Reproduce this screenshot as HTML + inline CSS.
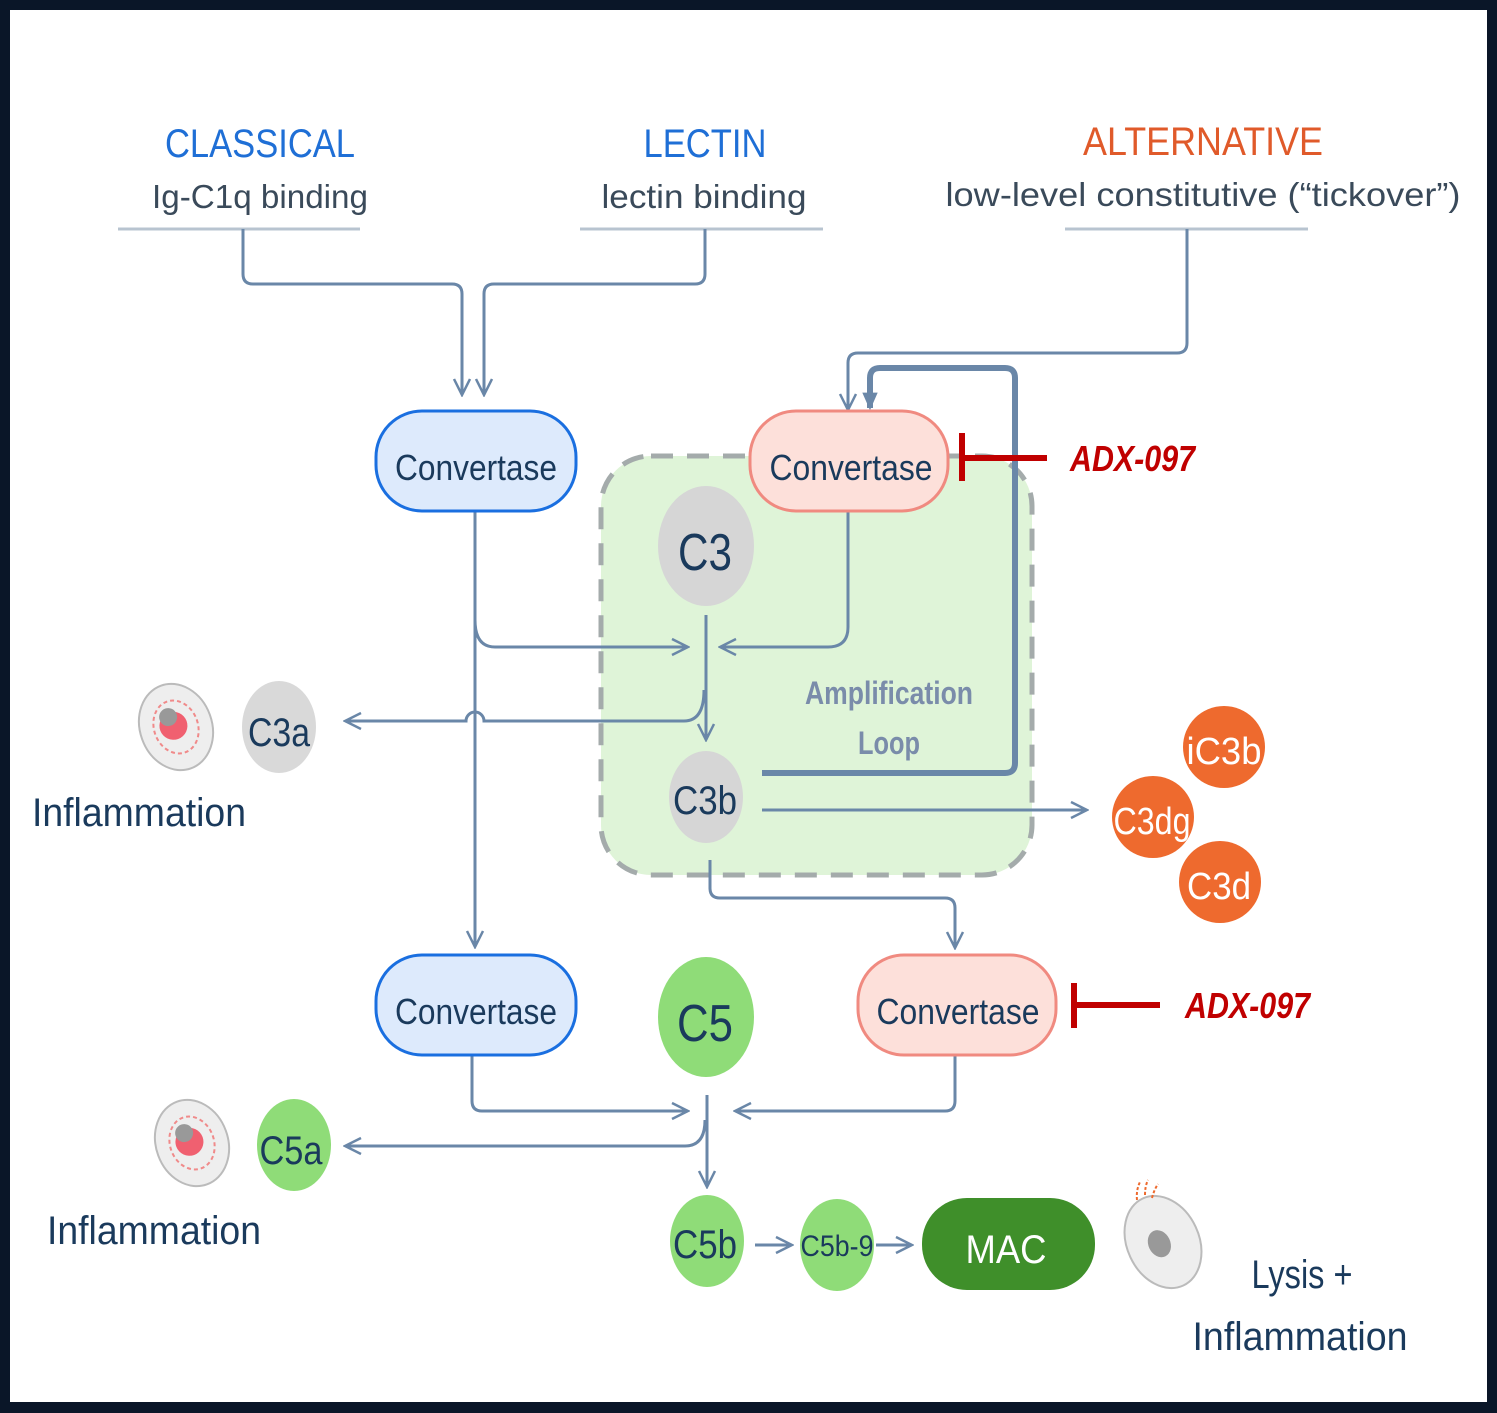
<!DOCTYPE html>
<html><head><meta charset="utf-8"><style>
html,body{margin:0;padding:0;background:#0a1628;}
svg{display:block;}
text{font-family:"Liberation Sans",sans-serif;}
</style></head><body>
<svg width="1497" height="1413" viewBox="0 0 1497 1413" xmlns="http://www.w3.org/2000/svg">
<defs>
<marker id="ar" viewBox="0 0 20 20" refX="18" refY="10" markerWidth="20" markerHeight="20" markerUnits="userSpaceOnUse" orient="auto">
<path d="M2,2 L18,10 L2,18" fill="none" stroke="#6a87a8" stroke-width="2.5"/>
</marker>
<marker id="ar2" viewBox="0 0 20 20" refX="16" refY="10" markerWidth="22" markerHeight="22" markerUnits="userSpaceOnUse" orient="auto">
<path d="M2,3 L18,10 L2,17 Z" fill="#6a87a8"/>
</marker>
</defs>
<rect x="10" y="10" width="1477" height="1392" fill="#ffffff"/>

<g text-anchor="middle" lengthAdjust="spacingAndGlyphs">
<text x="260" y="157" font-size="40" fill="#1f6fd6" textLength="190" lengthAdjust="spacingAndGlyphs">CLASSICAL</text>
<text x="260" y="208" font-size="33" fill="#3a4a5a" textLength="216" lengthAdjust="spacingAndGlyphs">Ig-C1q binding</text>
<text x="705" y="157" font-size="40" fill="#1f6fd6" textLength="123" lengthAdjust="spacingAndGlyphs">LECTIN</text>
<text x="704" y="208" font-size="33" fill="#3a4a5a" textLength="205" lengthAdjust="spacingAndGlyphs">lectin binding</text>
<text x="1203" y="155" font-size="40" fill="#e05a2a" textLength="240" lengthAdjust="spacingAndGlyphs">ALTERNATIVE</text>
<text x="1203" y="206" font-size="33" fill="#3a4a5a" textLength="515" lengthAdjust="spacingAndGlyphs">low-level  constitutive  (“tickover”)</text>
</g>
<g stroke="#b8c4d0" stroke-width="3">
<line x1="118" y1="229" x2="360" y2="229"/>
<line x1="580" y1="229" x2="823" y2="229"/>
<line x1="1065" y1="229" x2="1308" y2="229"/>
</g>

<rect x="601" y="456" width="431" height="419" rx="50" fill="#dff4d8" stroke="#a4abab" stroke-width="5" stroke-dasharray="22,14"/>

<g fill="none" stroke="#6a87a8" stroke-width="3">
<path d="M243,229 V274 Q243,284 253,284 H452 Q462,284 462,294 V395" marker-end="url(#ar)"/>
<path d="M705,229 V274 Q705,284 695,284 H494 Q484,284 484,294 V395" marker-end="url(#ar)"/>
<path d="M1187,229 V343 Q1187,353 1177,353 H858 Q848,353 848,363 V410" marker-end="url(#ar)"/>
<path d="M475,511 V947" marker-end="url(#ar)"/>
<path d="M475,620 Q475,647 495,647 H688" marker-end="url(#ar)"/>
<path d="M848,511 V627 Q848,647 828,647 H720" marker-end="url(#ar)"/>
<path d="M706,615 V740" marker-end="url(#ar)"/>
<path d="M704,690 Q704,721 684,721 H484 A9,9 0 0 0 466,721 H345" marker-end="url(#ar)"/>
<path d="M762,810 H1087" marker-end="url(#ar)"/>
<path d="M710,860 V888 Q710,898 720,898 H945 Q955,898 955,908 V948" marker-end="url(#ar)"/>
<path d="M472,1055 V1101 Q472,1111 482,1111 H688" marker-end="url(#ar)"/>
<path d="M955,1055 V1101 Q955,1111 945,1111 H735" marker-end="url(#ar)"/>
<path d="M707,1095 V1187" marker-end="url(#ar)"/>
<path d="M705,1120 Q705,1146 685,1146 H345" marker-end="url(#ar)"/>
<path d="M755,1245 H792" marker-end="url(#ar)"/>
<path d="M876,1245 H912" marker-end="url(#ar)"/>
</g>
<path d="M762,773 H1005 Q1015,773 1015,763 V378 Q1015,368 1005,368 H880 Q870,368 870,378 V408" fill="none" stroke="#6a87a8" stroke-width="6" marker-end="url(#ar2)"/>

<g font-size="36" text-anchor="middle" fill="#1a3a5c">
<rect x="376" y="411" width="200" height="100" rx="46" fill="#ddeafc" stroke="#1a6fe0" stroke-width="3"/>
<text x="476" y="480" textLength="162" lengthAdjust="spacingAndGlyphs">Convertase</text>
<rect x="750" y="411" width="198" height="100" rx="46" fill="#fde0da" stroke="#f08a80" stroke-width="3"/>
<text x="851" y="480" textLength="163" lengthAdjust="spacingAndGlyphs">Convertase</text>
<rect x="376" y="955" width="200" height="100" rx="46" fill="#ddeafc" stroke="#1a6fe0" stroke-width="3"/>
<text x="476" y="1024" textLength="162" lengthAdjust="spacingAndGlyphs">Convertase</text>
<rect x="858" y="955" width="198" height="100" rx="46" fill="#fde0da" stroke="#f08a80" stroke-width="3"/>
<text x="958" y="1024" textLength="163" lengthAdjust="spacingAndGlyphs">Convertase</text>
</g>

<g stroke="#c00000" stroke-width="6">
<line x1="962" y1="433" x2="962" y2="481"/><line x1="962" y1="458" x2="1047" y2="458"/>
<line x1="1074" y1="983" x2="1074" y2="1028"/><line x1="1074" y1="1005" x2="1160" y2="1005"/>
</g>
<g font-size="36" font-style="italic" font-weight="bold" fill="#c00000">
<text x="1070" y="471" textLength="125" lengthAdjust="spacingAndGlyphs">ADX-097</text>
<text x="1185" y="1018" textLength="125" lengthAdjust="spacingAndGlyphs">ADX-097</text>
</g>

<ellipse cx="706" cy="546" rx="48" ry="60" fill="#d6d6d6"/>
<text x="705" y="570" font-size="52" text-anchor="middle" fill="#1a3a5c" textLength="54" lengthAdjust="spacingAndGlyphs">C3</text>
<ellipse cx="706" cy="797" rx="37" ry="46" fill="#d6d6d6"/>
<text x="705" y="814" font-size="40" text-anchor="middle" fill="#1a3a5c" textLength="64" lengthAdjust="spacingAndGlyphs">C3b</text>
<g font-size="32" font-weight="bold" fill="#7a8caa" text-anchor="middle">
<text x="889" y="704" textLength="168" lengthAdjust="spacingAndGlyphs">Amplification</text>
<text x="889" y="754" textLength="62" lengthAdjust="spacingAndGlyphs">Loop</text>
</g>

<ellipse cx="279" cy="727" rx="37" ry="46" fill="#d9d9d9"/>
<text x="279" y="746" font-size="40" text-anchor="middle" fill="#1a3a5c" textLength="62" lengthAdjust="spacingAndGlyphs">C3a</text>
<g transform="translate(176,727) rotate(-20)">
<ellipse rx="36" ry="44" fill="#eeeeee" stroke="#bbbbbb" stroke-width="2"/>
<ellipse rx="22" ry="27" fill="none" stroke="#f08a8a" stroke-width="2" stroke-dasharray="4,3"/>
<circle r="14" cx="-2" cy="-2" fill="#f06070"/>
<circle r="9" cx="-4" cy="-12" fill="#999"/>
</g>
<text x="32" y="826" font-size="40" fill="#1a3a5c" textLength="214" lengthAdjust="spacingAndGlyphs">Inflammation</text>

<g font-size="38" text-anchor="middle" fill="#ffffff">
<circle cx="1224" cy="747" r="41" fill="#ee6a2e"/><text x="1224" y="764" textLength="75" lengthAdjust="spacingAndGlyphs">iC3b</text>
<circle cx="1220" cy="882" r="41" fill="#ee6a2e"/><text x="1219" y="899" textLength="64" lengthAdjust="spacingAndGlyphs">C3d</text>
<circle cx="1153" cy="817" r="41" fill="#ee6a2e"/><text x="1152" y="834" textLength="77" lengthAdjust="spacingAndGlyphs">C3dg</text>
</g>

<ellipse cx="706" cy="1017" rx="48" ry="60" fill="#8fdc78"/>
<text x="705" y="1041" font-size="52" text-anchor="middle" fill="#1a3a5c" textLength="56" lengthAdjust="spacingAndGlyphs">C5</text>

<ellipse cx="294" cy="1145" rx="37" ry="46" fill="#8fdc78"/>
<text x="291" y="1164" font-size="40" text-anchor="middle" fill="#1a3a5c" textLength="63" lengthAdjust="spacingAndGlyphs">C5a</text>
<g transform="translate(192,1143) rotate(-20)">
<ellipse rx="36" ry="44" fill="#eeeeee" stroke="#bbbbbb" stroke-width="2"/>
<ellipse rx="22" ry="27" fill="none" stroke="#f08a8a" stroke-width="2" stroke-dasharray="4,3"/>
<circle r="14" cx="-2" cy="-2" fill="#f06070"/>
<circle r="9" cx="-4" cy="-12" fill="#999"/>
</g>
<text x="47" y="1244" font-size="40" fill="#1a3a5c" textLength="214" lengthAdjust="spacingAndGlyphs">Inflammation</text>

<ellipse cx="707" cy="1241" rx="37" ry="46" fill="#8fdc78"/>
<text x="705" y="1258" font-size="40" text-anchor="middle" fill="#1a3a5c" textLength="64" lengthAdjust="spacingAndGlyphs">C5b</text>
<ellipse cx="837" cy="1245" rx="37" ry="46" fill="#8fdc78"/>
<text x="837" y="1256" font-size="30" text-anchor="middle" fill="#1a3a5c" textLength="73" lengthAdjust="spacingAndGlyphs">C5b-9</text>
<rect x="922" y="1198" width="173" height="92" rx="45" fill="#3f8f2a"/>
<text x="1006" y="1263" font-size="40" text-anchor="middle" fill="#ffffff" textLength="81" lengthAdjust="spacingAndGlyphs">MAC</text>

<g transform="translate(1163,1242) rotate(-25)">
<ellipse rx="36" ry="48" fill="#eeeeee" stroke="#bbbbbb" stroke-width="2"/>
<ellipse rx="11" ry="14" cx="-4" cy="0" fill="#999"/>
</g>
<g stroke="#ee6a2e" stroke-width="2" fill="none" stroke-dasharray="3,2">
<path d="M1137,1200 Q1136,1190 1140,1182"/><path d="M1145,1195 Q1145,1186 1148,1180"/><path d="M1152,1198 Q1154,1190 1158,1184"/>
</g>
<g font-size="40" text-anchor="middle" fill="#1a3a5c">
<text x="1302" y="1288" textLength="101" lengthAdjust="spacingAndGlyphs">Lysis +</text>
<text x="1300" y="1350" textLength="215" lengthAdjust="spacingAndGlyphs">Inflammation</text>
</g>
</svg>
</body></html>
